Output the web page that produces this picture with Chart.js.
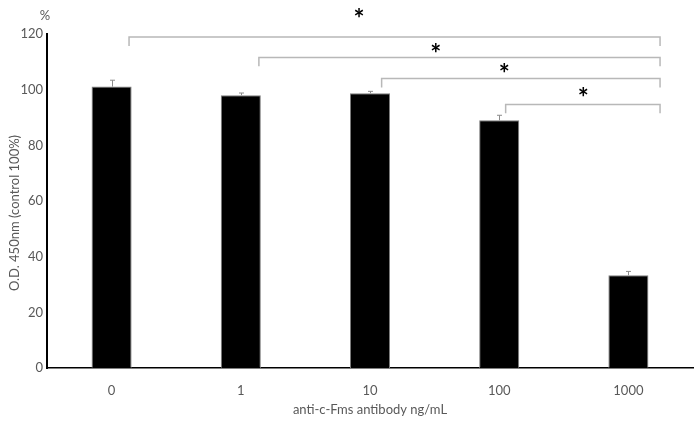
<!DOCTYPE html>
<html>
<head>
<meta charset="utf-8">
<script src="https://cdn.jsdelivr.net/npm/chart.js@4"></script>
<style>
    html, body { margin: 0; padding: 0; background: #fff; }
    #wrap { width: 700px; height: 442px; }
</style>
</head>
<body>
<div id="wrap"><canvas id="odChart" width="700" height="442"></canvas></div>
<script>
// Data
const doses = ['0', '1', '10', '100', '1000'];
const odValues = [101.1, 98.0, 98.7, 89.0, 33.3];
const odErrors = [2.3, 0.8, 0.7, 1.8, 1.4];
const yTickValues = [0, 20, 40, 60, 80, 100, 120];

// Significance brackets (category index / value units), all ending at the 1000 bar
const bracketFrom = [0.135, 1.14, 2.09, 3.05];
const bracketTo = [4.245, 4.245, 4.245, 4.245];
const bracketLevel = [118.9, 111.6, 104.0, 94.7];
const starX = [1.915, 2.51, 3.04, 3.65];
const starY = [127.2, 114.9, 107.4, 98.8];

const AXIS_TEXT = '#595959';
const FONT = 'Lato, "Open Sans", sans-serif';

// Error bars, brackets, asterisks and the extra labels
const annotationsPlugin = {
    id: 'annotations',
    afterDatasetsDraw(chart) {
        const { ctx, scales: { x, y } } = chart;
        ctx.save();

        // error bars (upper half only, as in the original)
        ctx.strokeStyle = '#8c8c8c';
        ctx.lineWidth = 1;
        odValues.forEach((v, i) => {
            const px = Math.round(x.getPixelForValue(i)) + 0.5;
            const top = y.getPixelForValue(v + odErrors[i]);
            const base = y.getPixelForValue(v);
            ctx.beginPath();
            ctx.moveTo(px, base);
            ctx.lineTo(px, top);
            ctx.moveTo(px - 2.5, top);
            ctx.lineTo(px + 2.5, top);
            ctx.stroke();
        });

        // brackets
        ctx.strokeStyle = '#b8b8b8';
        ctx.lineWidth = 1.5;
        bracketLevel.forEach((lvl, i) => {
            const x1 = x.getPixelForValue(bracketFrom[i]);
            const x2 = x.getPixelForValue(bracketTo[i]);
            const yy = y.getPixelForValue(lvl);
            const drop = y.getPixelForValue(lvl - 3.2);
            ctx.beginPath();
            ctx.moveTo(x1, drop);
            ctx.lineTo(x1, yy);
            ctx.lineTo(x2, yy);
            ctx.lineTo(x2, drop);
            ctx.stroke();
        });

        // asterisks
        ctx.fillStyle = '#000';
        ctx.font = 'bold 26px ' + FONT;
        ctx.textAlign = 'center';
        ctx.textBaseline = 'middle';
        starX.forEach((sx, i) => {
            ctx.fillText('*', x.getPixelForValue(sx), y.getPixelForValue(starY[i]) + 6);
        });

        // unit mark above the y axis
        ctx.fillStyle = AXIS_TEXT;
        ctx.font = '13px ' + FONT;
        ctx.fillText('%', 45, 16);

        // y axis title
        ctx.translate(15, 213);
        ctx.rotate(-Math.PI / 2);
        ctx.fillText('O.D. 450nm (control 100%)', 0, 0);
        ctx.restore();
    }
};

const ctx = document.getElementById('odChart').getContext('2d');
new Chart(ctx, {
    type: 'bar',
    data: {
        labels: doses,
        datasets: [{
            data: odValues,
            backgroundColor: '#000',
            borderColor: '#7f7f7f',
            borderWidth: 1,
            barPercentage: 0.31,
            categoryPercentage: 1
        }]
    },
    options: {
        responsive: false,
        animation: false,
        devicePixelRatio: 1,
        layout: { padding: { top: 34, right: 7, left: 0, bottom: 0 } },
        plugins: {
            legend: { display: false },
            tooltip: { enabled: false }
        },
        scales: {
            x: {
                grid: { display: false, drawTicks: false },
                border: { display: true, color: '#000', width: 1.5 },
                ticks: { color: AXIS_TEXT, font: { family: FONT, size: 13 }, padding: 15 },
                title: {
                    display: true,
                    text: 'anti-c-Fms antibody ng/mL',
                    color: AXIS_TEXT,
                    font: { family: FONT, size: 13 },
                    padding: { top: 0, bottom: 24 }
                },
                afterFit(scale) { scale.height = 74; }
            },
            y: {
                min: 0,
                max: 120,
                grid: { display: false, drawTicks: false },
                border: { display: true, color: '#000', width: 2 },
                afterBuildTicks(scale) {
                    scale.ticks = yTickValues.map(v => ({ value: v }));
                },
                ticks: { color: AXIS_TEXT, font: { family: FONT, size: 13 }, padding: 4 },
                afterFit(scale) { scale.width = 47; }
            }
        }
    },
    plugins: [annotationsPlugin]
});
</script>
</body>
</html>
